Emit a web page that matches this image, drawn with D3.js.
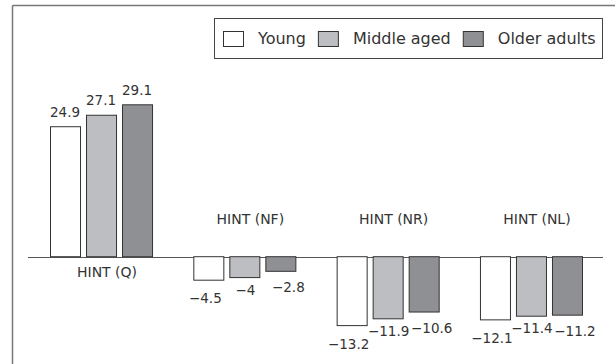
<!DOCTYPE html>
<html>
<head>
<meta charset="utf-8">
<script src="https://cdn.jsdelivr.net/npm/d3@7"></script>
<style>
  html, body { margin: 0; padding: 0; background: #fff; }
  text { font-family: "DejaVu Sans", sans-serif; fill: #333; }
</style>
</head>
<body>
<div id="chart"></div>
<script>
// Data
const categories = ["HINT (Q)", "HINT (NF)", "HINT (NR)", "HINT (NL)"];
const groups = ["Young", "Middle aged", "Older adults"];
const young = [24.9, -4.5, -13.2, -12.1];
const middleAged = [27.1, -4, -11.9, -11.4];
const olderAdults = [29.1, -2.8, -10.6, -11.2];
const valueLabels = [
  ["24.9", "27.1", "29.1"],
  ["\u22124.5", "\u22124", "\u22122.8"],
  ["\u221213.2", "\u221211.9", "\u221210.6"],
  ["\u221212.1", "\u221211.4", "\u221211.2"]
];
const colors = ["#ffffff", "#bdbec1", "#8f9094"];

const width = 615, height = 364;

// negative labels are staggered per series like in the original
const negDx = [-3, 1, 8];
const negDy = [23, 17, 21];

const svg = d3.select("#chart").append("svg")
    .attr("width", width)
    .attr("height", height);

// Frame (top and left edges)
svg.append("line").attr("x1", 12.5).attr("x2", width).attr("y1", 5.5).attr("y2", 5.5)
    .style("stroke", "#777").style("stroke-width", 1.5);
svg.append("line").attr("x1", 12.5).attr("x2", 12.5).attr("y1", 5.5).attr("y2", height)
    .style("stroke", "#777").style("stroke-width", 1.5);

// Scales
const x0 = d3.scaleBand().domain(categories).range([50, 582]).paddingInner(0.288);
const x1 = d3.scaleBand().domain(groups).range([0, x0.bandwidth()]).paddingInner(1 / 6);
const y = d3.scaleLinear().domain([-15, 30]).range([335, 100.1]);

const rows = categories.map((c, i) => ({
  cat: c,
  vals: [young[i], middleAged[i], olderAdults[i]],
  labels: valueLabels[i]
}));

// Zero line
svg.append("line")
    .attr("x1", 28).attr("x2", 603)
    .attr("y1", Math.round(y(0)) + 0.5).attr("y2", Math.round(y(0)) + 0.5)
    .style("stroke", "#555").style("stroke-width", 1);

const g = svg.selectAll(".grp").data(rows).enter().append("g")
    .attr("class", "grp")
    .attr("transform", d => `translate(${x0(d.cat)},0)`);

// Bars
g.selectAll("rect").data(d => d.vals.map((v, j) => ({ v, j, name: groups[j] })))
  .enter().append("rect")
    .attr("x", d => x1(d.name) + 0.5)
    .attr("width", x1.bandwidth())
    .attr("y", d => y(Math.max(0, d.v)))
    .attr("height", d => Math.abs(y(d.v) - y(0)))
    .style("fill", d => colors[d.j])
    .style("stroke", "#333")
    .style("stroke-width", 1);

// Value labels
g.selectAll(".val").data(d => d.vals.map((v, j) => ({ v, j, name: groups[j], t: d.labels[j] })))
  .enter().append("text")
    .attr("class", "val")
    .attr("x", d => x1(d.name) + x1.bandwidth() / 2 + (d.v < 0 ? negDx[d.j] : 0))
    .attr("y", d => d.v >= 0 ? y(d.v) - 10 : y(d.v) + negDy[d.j])
    .attr("text-anchor", "middle")
    .style("font-size", "13.5px")
    .text(d => d.t);

// Category labels
g.append("text")
    .attr("x", x0.bandwidth() / 2 + 6)
    .attr("y", (d, i) => i === 0 ? y(0) + 20 : y(0) - 33)
    .attr("text-anchor", "middle")
    .style("font-size", "14px")
    .text(d => d.cat);

// Legend
const legend = svg.append("g");
legend.append("rect")
    .attr("x", 214.5).attr("y", 18.5).attr("width", 388).attr("height", 40)
    .style("fill", "#fff").style("stroke", "#444").style("stroke-width", 1);

let lx = 223;
groups.forEach((name, j) => {
  legend.append("rect")
      .attr("x", lx + 0.5).attr("y", 31.5).attr("width", 20).attr("height", 15)
      .style("fill", colors[j]).style("stroke", "#333").style("stroke-width", 1);
  const t = legend.append("text")
      .attr("x", lx + 35).attr("y", 44)
      .style("font-size", "16px")
      .text(name);
  lx = lx + 35 + t.node().getComputedTextLength() + 12;
});
</script>
</body>
</html>
